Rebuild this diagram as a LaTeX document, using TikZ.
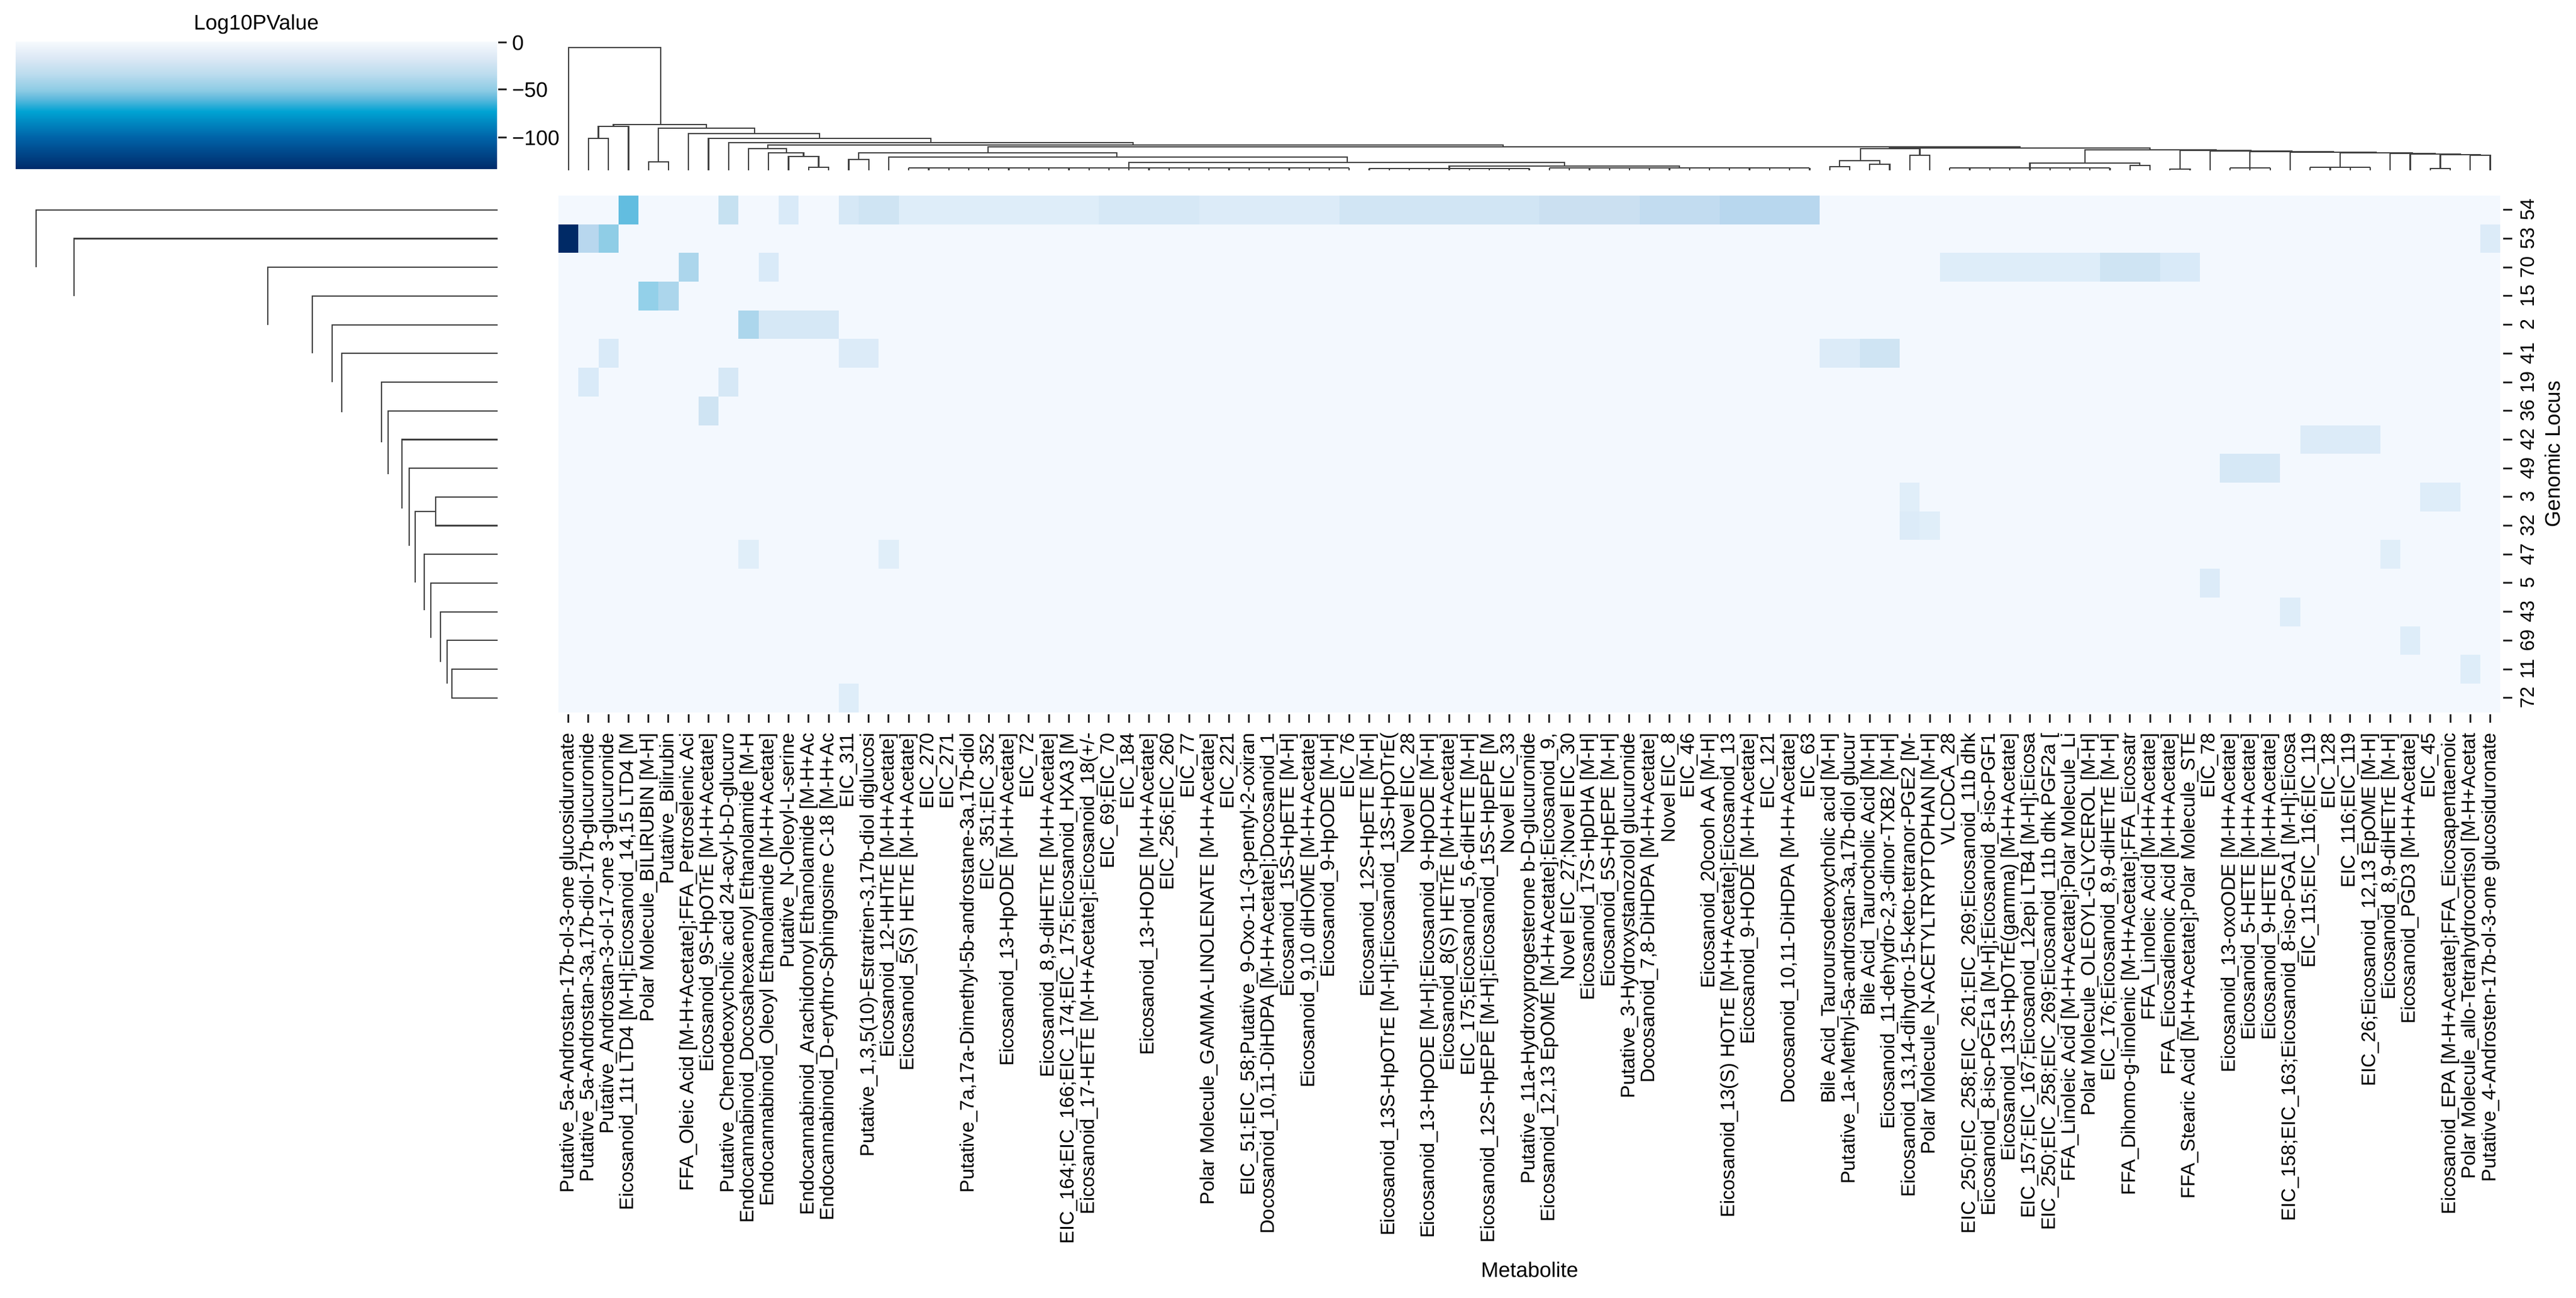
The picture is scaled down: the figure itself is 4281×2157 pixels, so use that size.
\documentclass[tikz,border=0pt]{standalone}
\usepackage{fontspec}
\setmainfont{Liberation Sans}
\catcode`\_=12
\definecolor{bg}{HTML}{F3F8FE}
\definecolor{La}{HTML}{E0EEF9}
\definecolor{Lb}{HTML}{DEEDF9}
\definecolor{Lc}{HTML}{DCEBF8}
\definecolor{Ld}{HTML}{D9EAF8}
\definecolor{Le}{HTML}{D6E8F6}
\definecolor{Lf}{HTML}{D1E5F4}
\definecolor{Lg}{HTML}{CFE4F3}
\definecolor{Lh}{HTML}{CBE0F1}
\definecolor{Li}{HTML}{C6E1F1}
\definecolor{Lj}{HTML}{C2DCF0}
\definecolor{Lk}{HTML}{B8D7EE}
\definecolor{Ma}{HTML}{ACD6EC}
\definecolor{Mb}{HTML}{93D0E9}
\definecolor{Mc}{HTML}{8FCDE6}
\definecolor{Md}{HTML}{62BDE0}
\definecolor{Da}{HTML}{002A66}
\definecolor{s0}{HTML}{002A6A}
\definecolor{s1}{HTML}{0063A8}
\definecolor{s2}{HTML}{00A3D3}
\definecolor{s3}{HTML}{5AB8DC}
\definecolor{s4}{HTML}{8CCBE4}
\definecolor{s5}{HTML}{BCDCEE}
\definecolor{s6}{HTML}{DDE9F5}
\definecolor{s7}{HTML}{F5F9FD}
\pgfdeclareverticalshading{cbar}{100bp}{color(0bp)=(s0); color(25bp)=(s0); color(37.5bp)=(s1); color(47.75bp)=(s2); color(52.5bp)=(s3); color(56bp)=(s4); color(62.5bp)=(s5); color(69bp)=(s6); color(75bp)=(s7); color(100bp)=(s7)}
\newcommand\cx[1]{928+33.27*(#1+0.5)}
\newcommand\ry[1]{325+47.7*(#1+0.5)}
\newcommand\dl[5]{\draw[dend] ({\cx{#1}},#2) |- ({\cx{#3}},#5) -- ({\cx{#3}},#4);}
\newcommand\comb[3]{\draw[dend] ({\cx{#1}},#3) -- ({\cx{#2}},#3); \foreach \i in {#1,...,#2} {\draw[dend] ({\cx{\i}},283) -- ({\cx{\i}},#3);}}
\newcommand\rl[5]{\draw[dend] (#2,{\ry{#1}}) -| (#5,{\ry{#3}}) -- (#4,{\ry{#3}});}
\newcommand\cells[4]{\fill[#4] ({928+33.27*#2},{325+47.7*#1}) rectangle ({928+33.27*(#3+1)},{325+47.7*(#1+1)});}
\newcommand\xl[2]{\node[xlab] at ({\cx{#1}},1217) {#2}; \draw[tk] ({\cx{#1}},1187) -- ({\cx{#1}},1201);}
\newcommand\yl[2]{\node[ylab] at (4200,{\ry{#1}}) {#2}; \draw[tk] (4160,{\ry{#1}}) -- (4175,{\ry{#1}});}
\begin{document}
\begin{tikzpicture}[x=0.2pt,y=-0.2pt,
  dend/.style={line width=0.45pt,draw=black!75},
  tk/.style={line width=0.6pt,draw=black!85},
  xlab/.style={rotate=90,anchor=east,inner sep=0pt,font=\fontsize{6.5}{7}\selectfont},
  ylab/.style={rotate=90,anchor=center,inner sep=0pt,font=\fontsize{6.5}{7}\selectfont},
  ttl/.style={inner sep=0pt,font=\fontsize{7}{8}\selectfont}]
\useasboundingbox (0,0) rectangle (4281,2157);
\fill[white] (0,0) rectangle (4281,2157);
% colorbar
\shade[shading=cbar] (26,70) rectangle (826,281);
\node[ttl] (cbt) at (426,40) {Log10PValue};
\foreach \v/\yy in {0/71,−50/149,−100/229} {\draw[tk] (828,\yy) -- (842,\yy); \node[ttl,anchor=west] at (850,\yy) {\v};}
% heatmap
\fill[bg] (928,325) rectangle (4155,1184);
\cells{0}{3}{3}{Md}\cells{0}{8}{8}{Li}\cells{0}{11}{11}{Ld}
\cells{0}{14}{14}{Le}\cells{0}{15}{16}{Lg}\cells{0}{17}{26}{Lb}\cells{0}{27}{31}{Le}
\cells{0}{32}{38}{Lc}\cells{0}{39}{48}{Lf}\cells{0}{49}{53}{Lh}\cells{0}{54}{57}{Lj}\cells{0}{58}{62}{Lk}
\cells{1}{0}{0}{Da}\cells{1}{1}{1}{Lk}\cells{1}{2}{2}{Mc}\cells{1}{96}{96}{Lc}
\cells{2}{6}{6}{Ma}\cells{2}{10}{10}{Ld}\cells{2}{69}{76}{Lb}\cells{2}{77}{79}{Lg}\cells{2}{80}{81}{Ld}
\cells{3}{4}{4}{Mb}\cells{3}{5}{5}{Ma}
\cells{4}{9}{9}{Ma}\cells{4}{10}{13}{Le}
\cells{5}{2}{2}{Ld}\cells{5}{14}{15}{Lc}\cells{5}{63}{64}{Lc}\cells{5}{65}{66}{Lg}
\cells{6}{1}{1}{Ld}\cells{6}{8}{8}{Le}
\cells{7}{7}{7}{Lg}
\cells{8}{87}{90}{Lc}
\cells{9}{83}{85}{Le}
\cells{10}{67}{67}{La}\cells{10}{93}{94}{Lb}
\cells{11}{67}{67}{Lc}\cells{11}{68}{68}{La}
\cells{12}{9}{9}{La}\cells{12}{16}{16}{La}\cells{12}{91}{91}{La}
\cells{13}{82}{82}{Lc}
\cells{14}{86}{86}{Lb}
\cells{15}{92}{92}{Lb}
\cells{16}{95}{95}{Lb}
\cells{17}{14}{14}{Lb}
% column dendrogram
\dl{0}{283}{4.6}{207}{79}
\dl{2.25}{210}{6.9}{213}{207}
\dl{1.5}{230}{3}{283}{210}
\dl{1}{283}{2}{283}{230}
\dl{4.5}{269}{9.3}{222}{213}
\dl{4}{283}{5}{283}{269}
\dl{6}{283}{12.55}{230}{222}
\dl{7}{283}{18.1}{237}{230}
\dl{8}{283}{28.2}{241}{237}
\dl{9.95}{247}{46.7}{244}{241}
\dl{9}{283}{10.9}{254}{247}
\dl{10}{283}{11.75}{260}{254}
\dl{11}{283}{12.5}{278}{260}
\dl{12}{283}{13}{283}{278}
\dl{20.95}{254}{72.5}{246}{244}
\dl{14.5}{265}{27.4}{261}{254}
\dl{14}{283}{15}{283}{265}
\dl{16}{283}{38.9}{270}{261}
\dl{28}{279}{49.75}{276}{270}
\dl{44}{280}{55.5}{279}{276}
\comb{17}{39}{279}\comb{40}{48}{280}\comb{49}{62}{279}
\dl{66}{247}{79}{249}{246}
\dl{64.55}{267}{67.5}{258}{247}
\dl{63.5}{277}{65.5}{273}{267}
\dl{63}{283}{64}{283}{277}
\dl{65}{283}{66}{283}{273}
\dl{67}{283}{68}{283}{258}
\dl{75.75}{271}{82.3}{250}{249}
\dl{73}{279}{78.5}{275}{271}
\comb{69}{77}{279}
\dl{78}{283}{79}{283}{275}
\dl{80.5}{281}{84.05}{251}{250}
\dl{80}{283}{81}{283}{281}
\dl{82}{283}{86.1}{252}{251}
\dl{84}{279}{88.15}{253}{252}
\comb{83}{85}{279}
\dl{86}{283}{90.3}{254}{253}
\dl{88.5}{278}{92.1}{255}{254}
\comb{87}{90}{278}
\dl{91}{283}{93.25}{256}{255}
\dl{92}{283}{94.5}{257}{256}
\dl{93.5}{280}{95.5}{258}{257}
\dl{93}{283}{94}{283}{280}
\dl{95}{283}{96}{283}{258}
% row dendrogram
\rl{0}{827}{2}{60}{60}
\rl{1}{827}{3}{123}{123}
\rl{2}{827}{4}{445}{445}
\rl{3}{827}{5}{519}{519}
\rl{4}{827}{6}{552}{552}
\rl{5}{827}{7.05}{568}{568}
\rl{6}{827}{8.1}{634}{634}
\rl{7}{827}{9.2}{645}{645}
\rl{8}{827}{10.4}{668}{668}
\rl{9}{827}{11.7}{680}{680}
\rl{10.5}{724}{12.97}{690}{690}
\rl{10}{827}{11}{827}{724}
\rl{12}{827}{13.95}{705}{705}
\rl{13}{827}{14.9}{716}{716}
\rl{14}{827}{15.75}{732}{732}
\rl{15}{827}{16.5}{743}{743}
\rl{16}{827}{17}{827}{751}
% row labels
\yl{0}{54}\yl{1}{53}\yl{2}{70}\yl{3}{15}\yl{4}{2}\yl{5}{41}\yl{6}{19}\yl{7}{36}\yl{8}{42}
\yl{9}{49}\yl{10}{3}\yl{11}{32}\yl{12}{47}\yl{13}{5}\yl{14}{43}\yl{15}{69}\yl{16}{11}\yl{17}{72}
\node[ttl,rotate=90] (gl) at (4242,755) {Genomic Locus};
\node[ttl] (mt) at (2542,2110) {Metabolite};
% column labels
\xl{0}{Putative_5a-Androstan-17b-ol-3-one glucosiduronate}
\xl{1}{Putative_5a-Androstan-3a,17b-diol-17b-glucuronide}
\xl{2}{Putative_Androstan-3-ol-17-one 3-glucuronide}
\xl{3}{Eicosanoid_11t LTD4 [M-H];Eicosanoid_14,15 LTD4 [M}
\xl{4}{Polar Molecule_BILIRUBIN [M-H]}
\xl{5}{Putative_Bilirubin}
\xl{6}{FFA_Oleic Acid  [M-H+Acetate];FFA_Petroselenic Aci}
\xl{7}{Eicosanoid_9S-HpOTrE [M-H+Acetate]}
\xl{8}{Putative_Chenodeoxycholic acid 24-acyl-b-D-glucuro}
\xl{9}{Endocannabinoid_Docosahexaenoyl Ethanolamide  [M-H}
\xl{10}{Endocannabinoid_Oleoyl Ethanolamide  [M-H+Acetate]}
\xl{11}{Putative_N-Oleoyl-L-serine}
\xl{12}{Endocannabinoid_Arachidonoyl Ethanolamide  [M-H+Ac}
\xl{13}{Endocannabinoid_D-erythro-Sphingosine C-18 [M-H+Ac}
\xl{14}{EIC_311}
\xl{15}{Putative_1,3,5(10)-Estratrien-3,17b-diol diglucosi}
\xl{16}{Eicosanoid_12-HHTrE [M-H+Acetate]}
\xl{17}{Eicosanoid_5(S) HETrE [M-H+Acetate]}
\xl{18}{EIC_270}
\xl{19}{EIC_271}
\xl{20}{Putative_7a,17a-Dimethyl-5b-androstane-3a,17b-diol}
\xl{21}{EIC_351;EIC_352}
\xl{22}{Eicosanoid_13-HpODE [M-H+Acetate]}
\xl{23}{EIC_72}
\xl{24}{Eicosanoid_8,9-diHETrE [M-H+Acetate]}
\xl{25}{EIC_164;EIC_166;EIC_174;EIC_175;Eicosanoid_HXA3 [M}
\xl{26}{Eicosanoid_17-HETE [M-H+Acetate];Eicosanoid_18(+/-}
\xl{27}{EIC_69;EIC_70}
\xl{28}{EIC_184}
\xl{29}{Eicosanoid_13-HODE [M-H+Acetate]}
\xl{30}{EIC_256;EIC_260}
\xl{31}{EIC_77}
\xl{32}{Polar Molecule_GAMMA-LINOLENATE [M-H+Acetate]}
\xl{33}{EIC_221}
\xl{34}{EIC_51;EIC_58;Putative_9-Oxo-11-(3-pentyl-2-oxiran}
\xl{35}{Docosanoid_10,11-DiHDPA [M-H+Acetate];Docosanoid_1}
\xl{36}{Eicosanoid_15S-HpETE [M-H]}
\xl{37}{Eicosanoid_9,10 diHOME [M-H+Acetate]}
\xl{38}{Eicosanoid_9-HpODE [M-H]}
\xl{39}{EIC_76}
\xl{40}{Eicosanoid_12S-HpETE [M-H]}
\xl{41}{Eicosanoid_13S-HpOTrE [M-H];Eicosanoid_13S-HpOTrE(}
\xl{42}{Novel EIC_28}
\xl{43}{Eicosanoid_13-HpODE [M-H];Eicosanoid_9-HpODE [M-H]}
\xl{44}{Eicosanoid_8(S) HETrE [M-H+Acetate]}
\xl{45}{EIC_175;Eicosanoid_5,6-diHETE [M-H]}
\xl{46}{Eicosanoid_12S-HpEPE [M-H];Eicosanoid_15S-HpEPE [M}
\xl{47}{Novel EIC_33}
\xl{48}{Putative_11a-Hydroxyprogesterone b-D-glucuronide}
\xl{49}{Eicosanoid_12,13 EpOME [M-H+Acetate];Eicosanoid_9,}
\xl{50}{Novel EIC_27;Novel EIC_30}
\xl{51}{Eicosanoid_17S-HpDHA [M-H]}
\xl{52}{Eicosanoid_5S-HpEPE [M-H]}
\xl{53}{Putative_3-Hydroxystanozolol glucuronide}
\xl{54}{Docosanoid_7,8-DiHDPA [M-H+Acetate]}
\xl{55}{Novel EIC_8}
\xl{56}{EIC_46}
\xl{57}{Eicosanoid_20cooh AA [M-H]}
\xl{58}{Eicosanoid_13(S) HOTrE [M-H+Acetate];Eicosanoid_13}
\xl{59}{Eicosanoid_9-HODE [M-H+Acetate]}
\xl{60}{EIC_121}
\xl{61}{Docosanoid_10,11-DiHDPA [M-H+Acetate]}
\xl{62}{EIC_63}
\xl{63}{Bile Acid_Tauroursodeoxycholic acid [M-H]}
\xl{64}{Putative_1a-Methyl-5a-androstan-3a,17b-diol glucur}
\xl{65}{Bile Acid_Taurocholic Acid [M-H]}
\xl{66}{Eicosanoid_11-dehydro-2,3-dinor-TXB2 [M-H]}
\xl{67}{Eicosanoid_13,14-dihydro-15-keto-tetranor-PGE2 [M-}
\xl{68}{Polar Molecule_N-ACETYLTRYPTOPHAN [M-H]}
\xl{69}{VLCDCA_28}
\xl{70}{EIC_250;EIC_258;EIC_261;EIC_269;Eicosanoid_11b dhk}
\xl{71}{Eicosanoid_8-iso-PGF1a [M-H];Eicosanoid_8-iso-PGF1}
\xl{72}{Eicosanoid_13S-HpOTrE(gamma) [M-H+Acetate]}
\xl{73}{EIC_157;EIC_167;Eicosanoid_12epi LTB4 [M-H];Eicosa}
\xl{74}{EIC_250;EIC_258;EIC_269;Eicosanoid_11b dhk PGF2a [}
\xl{75}{FFA_Linoleic Acid  [M-H+Acetate];Polar Molecule_Li}
\xl{76}{Polar Molecule_OLEOYL-GLYCEROL [M-H]}
\xl{77}{EIC_176;Eicosanoid_8,9-diHETrE [M-H]}
\xl{78}{FFA_Dihomo-g-linolenic  [M-H+Acetate];FFA_Eicosatr}
\xl{79}{FFA_Linoleic Acid  [M-H+Acetate]}
\xl{80}{FFA_Eicosadienoic Acid  [M-H+Acetate]}
\xl{81}{FFA_Stearic Acid  [M-H+Acetate];Polar Molecule_STE}
\xl{82}{EIC_78}
\xl{83}{Eicosanoid_13-oxoODE [M-H+Acetate]}
\xl{84}{Eicosanoid_5-HETE [M-H+Acetate]}
\xl{85}{Eicosanoid_9-HETE [M-H+Acetate]}
\xl{86}{EIC_158;EIC_163;Eicosanoid_8-iso-PGA1 [M-H];Eicosa}
\xl{87}{EIC_115;EIC_116;EIC_119}
\xl{88}{EIC_128}
\xl{89}{EIC_116;EIC_119}
\xl{90}{EIC_26;Eicosanoid_12,13 EpOME [M-H]}
\xl{91}{Eicosanoid_8,9-diHETrE [M-H]}
\xl{92}{Eicosanoid_PGD3 [M-H+Acetate]}
\xl{93}{EIC_45}
\xl{94}{Eicosanoid_EPA [M-H+Acetate];FFA_Eicosapentaenoic}
\xl{95}{Polar Molecule_allo-Tetrahydrocortisol [M-H+Acetat}
\xl{96}{Putative_4-Androsten-17b-ol-3-one glucosiduronate}
\end{tikzpicture}
\end{document}
